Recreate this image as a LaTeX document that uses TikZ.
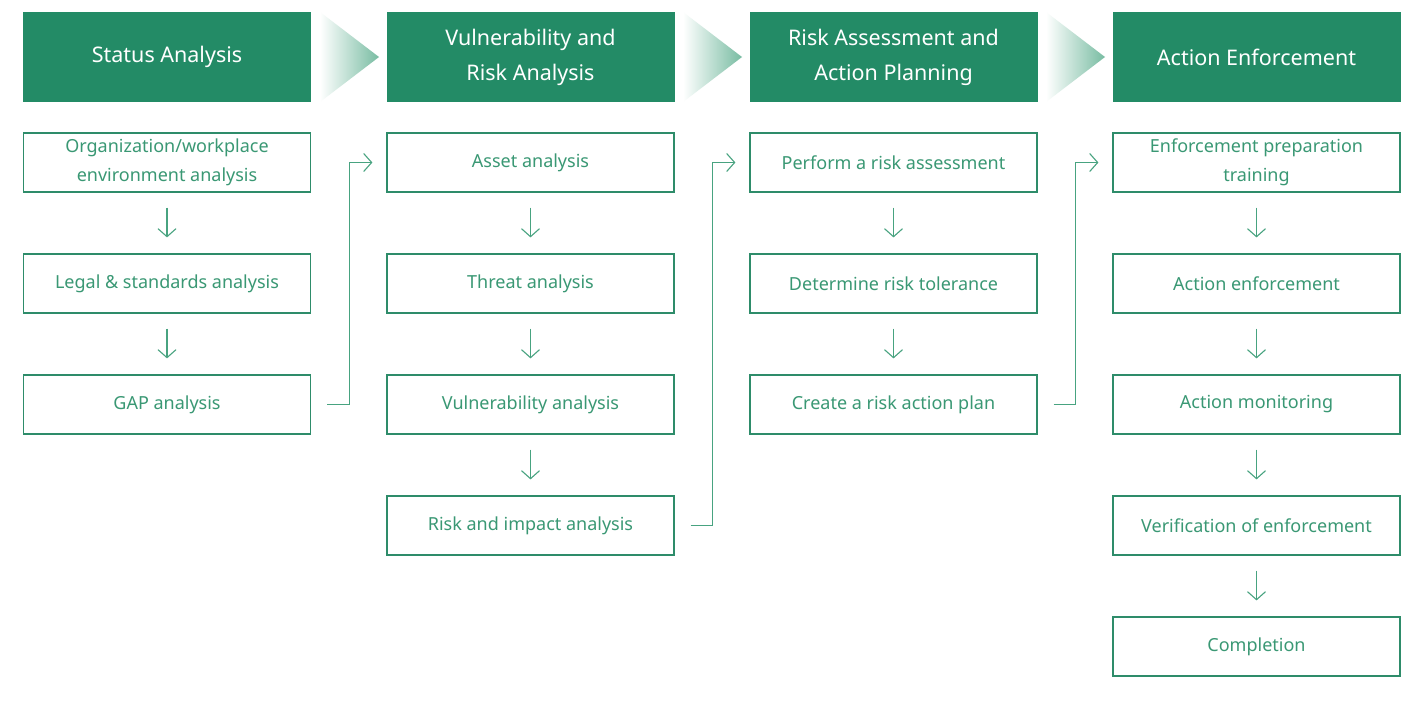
\documentclass[tikz,border=0pt]{standalone}
\usepackage{fontspec}
\setmainfont{Noto Sans}
\usetikzlibrary{arrows.meta,positioning,shadings}
\definecolor{hdr}{RGB}{35,139,102}
\definecolor{bord}{RGB}{46,140,106}
\definecolor{txt}{RGB}{58,152,116}
\definecolor{arr}{RGB}{72,163,128}
\definecolor{chev}{RGB}{120,188,162}
\begin{document}
\begin{tikzpicture}[x=1pt,y=-1pt,
  header/.style={fill=hdr,text=white,minimum width=288pt,minimum height=90pt,inner sep=0pt,align=center,font=\fontsize{21.5}{35}\selectfont},
  stepbox/.style={draw=bord,line width=1.2pt,fill=white,text=txt,minimum width=287pt,minimum height=59pt,inner sep=0pt,align=center,font=\fontsize{18}{29}\selectfont},
  down/.style={draw=arr,line width=1.1pt,-{Straight Barb[length=8pt,width=18pt,line width=1.1pt]}},
  link/.style={draw=arr,line width=1.1pt,-{Straight Barb[length=8pt,width=18pt,line width=1.1pt]}}
]
\path[fill=white] (0,0) rectangle (1405,705);
% headers
\node[header] (h1) at (167,57) {Status Analysis};
\node[header] (h2) at (530.5,57) {Vulnerability and\\Risk Analysis};
\node[header] (h3) at (893.5,57) {Risk Assessment and\\Action Planning};
\node[header] (h4) at (1256.5,57) {Action Enforcement};
% chevrons
\foreach \xa in {320,683,1046}{
  \shade[left color=white,right color=chev,shading angle=90] (\xa,12) -- (\xa+59,57) -- (\xa,102) -- cycle;
}
% column 1
\node[stepbox] (a1) at (167,162.5) {Organization/workplace\\environment analysis};
\node[stepbox] (a2) at (167,283.5) {Legal \& standards analysis};
\node[stepbox] (a3) at (167,404.5) {GAP analysis};
% column 2
\node[stepbox] (b1) at (530.5,162.5) {Asset analysis};
\node[stepbox] (b2) at (530.5,283.5) {Threat analysis};
\node[stepbox] (b3) at (530.5,404.5) {Vulnerability analysis};
\node[stepbox] (b4) at (530.5,525.5) {Risk and impact analysis};
% column 3
\node[stepbox] (c1) at (893.5,162.5) {Perform a risk assessment};
\node[stepbox] (c2) at (893.5,283.5) {Determine risk tolerance};
\node[stepbox] (c3) at (893.5,404.5) {Create a risk action plan};
% column 4
\node[stepbox] (d1) at (1256.5,162.5) {Enforcement preparation\\training};
\node[stepbox] (d2) at (1256.5,283.5) {Action enforcement};
\node[stepbox] (d3) at (1256.5,404.5) {Action monitoring};
\node[stepbox] (d4) at (1256.5,525.5) {Verification of enforcement};
\node[stepbox] (d5) at (1256.5,646.5) {Completion};
% down arrows
\foreach \u/\v in {a1/a2,a2/a3,b1/b2,b2/b3,b3/b4,c1/c2,c2/c3,d1/d2,d2/d3,d3/d4,d4/d5}{
  \draw[down] ([yshift=-15pt]\u.south) -- ([yshift=16pt]\v.north);
}
% links between columns
\draw[link] ([xshift=16pt]a3.east) -| ([xshift=38pt]a3.east |- b1.west) -- ([xshift=-14pt]b1.west);
\draw[link] ([xshift=16pt]b4.east) -| ([xshift=38pt]b4.east |- c1.west) -- ([xshift=-14pt]c1.west);
\draw[link] ([xshift=16pt]c3.east) -| ([xshift=38pt]c3.east |- d1.west) -- ([xshift=-14pt]d1.west);
\end{tikzpicture}
\end{document}
